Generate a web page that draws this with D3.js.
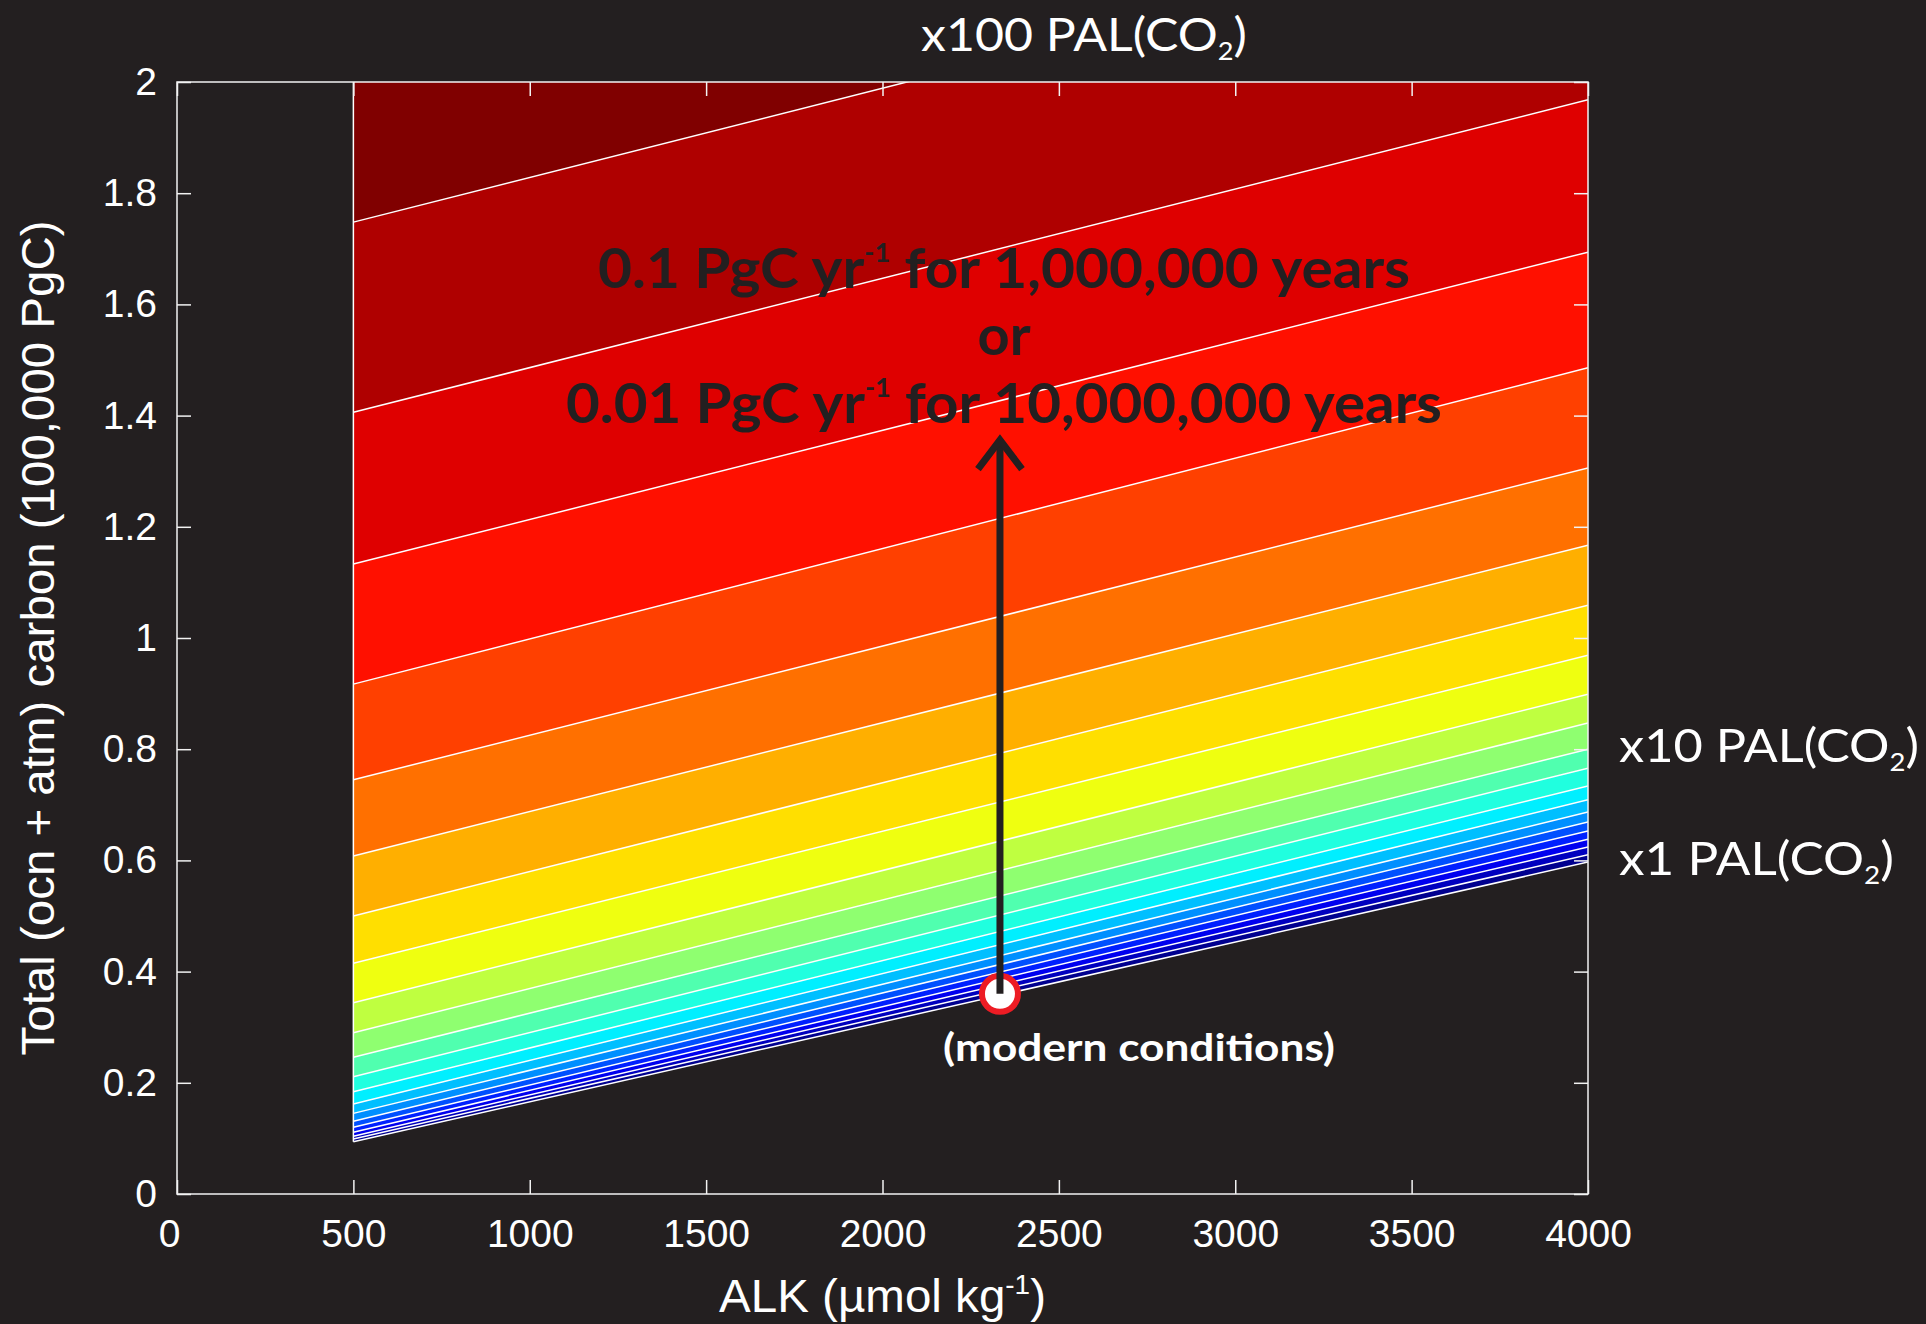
<!DOCTYPE html>
<html>
<head>
<meta charset="utf-8">
<script src="https://cdn.jsdelivr.net/npm/d3@7"></script>
<style>
  html, body { margin: 0; padding: 0; background: #231f20; }
  svg { display: block; }
</style>
</head>
<body>
<div id="chart"></div>
<script>
// pCO2 contour levels, 10 per decade: level k = 10^(k/10) x PAL
const levelIndex = [0, 1, 2, 3, 4, 5, 6, 7, 8, 9, 10, 11, 12, 13, 14, 15, 16, 17, 18, 19, 20];
// ALK where the computed field starts and ends
const alkEnds = [500, 4000];
// total carbon (100,000 PgC) of each contour at ALK = 500 and ALK = 4000
const dicAtAlkLow  = [0.094, 0.099, 0.104, 0.111, 0.120, 0.131, 0.145, 0.162, 0.184, 0.211,
                      0.246, 0.290, 0.344, 0.415, 0.500, 0.608, 0.745, 0.917, 1.133, 1.406, 1.748];
const dicAtAlkHigh = [0.597, 0.610, 0.624, 0.638, 0.653, 0.669, 0.687, 0.709, 0.734, 0.766,
                      0.800, 0.847, 0.899, 0.969, 1.059, 1.167, 1.306, 1.486, 1.694, 1.968, 2.310];

const xTicks = [0, 500, 1000, 1500, 2000, 2500, 3000, 3500, 4000];
const xTickLabels = ["0", "500", "1000", "1500", "2000", "2500", "3000", "3500", "4000"];
const yTicks = [0, 0.2, 0.4, 0.6, 0.8, 1, 1.2, 1.4, 1.6, 1.8, 2];
const yTickLabels = ["0", "0.2", "0.4", "0.6", "0.8", "1", "1.2", "1.4", "1.6", "1.8", "2"];

// modern ocean (ALK, total carbon) and where the arrow points to
const modernAlk = 2333;
const modernDic = 0.36;
const arrowTopDic = 1.356;

const W = 1926, H = 1324;
const margin = {left: 177, right: 338, top: 82, bottom: 130};
const width = W - margin.left - margin.right,
      height = H - margin.top - margin.bottom;

const bg = "#231f20";
const fg = "#f2f2f2";
const gothic = "'Century Gothic', 'URW Gothic', Lato, 'Open Sans', sans-serif";
const arial = "Arial, 'Liberation Sans', Helvetica, sans-serif";

function jet64(i) {
    // MATLAB jet(64), i = 1..64
    let u = k => (k >= 1 && k <= 16) ? k / 16 : (k >= 17 && k <= 31) ? 1 : (k >= 32 && k <= 47) ? (48 - k) / 16 : 0;
    return d3.rgb(255 * u(i - 24), 255 * u(i - 8), 255 * u(i + 8)).formatHex();
}

function bandColor(k) {
    let t = k / (levelIndex.length - 1);
    return jet64(Math.min(64, Math.floor(t * 64) + 1));
}

let svg = d3.select("#chart")
    .append("svg")
    .attr("width", W)
    .attr("height", H)
    .style("background", bg);

let x = d3.scaleLinear().domain([0, 4000]).range([0, width]);
let y = d3.scaleLinear().domain([0, 2]).range([height, 0]);

svg.append("defs").append("clipPath")
    .attr("id", "plot-clip")
    .append("rect")
    .attr("width", width)
    .attr("height", height);

let g = svg.append("g")
    .attr("transform", "translate(" + margin.left + "," + margin.top + ")");

let field = g.append("g").attr("clip-path", "url(#plot-clip)");

// filled bands between consecutive contours, top band runs off the axes
let bands = levelIndex.map(function (k, i) {
    let lower = [[alkEnds[0], dicAtAlkLow[i]], [alkEnds[1], dicAtAlkHigh[i]]];
    let upper = i < levelIndex.length - 1
        ? [[alkEnds[1], dicAtAlkHigh[i + 1]], [alkEnds[0], dicAtAlkLow[i + 1]]]
        : [[alkEnds[1], 3], [alkEnds[0], 3]];
    return {k: k, pts: lower.concat(upper)};
});

let area = d3.line().x(d => x(d[0])).y(d => y(d[1]));

field.selectAll("path.band")
    .data(bands)
    .enter().append("path")
    .attr("class", "band")
    .attr("d", d => area(d.pts) + "Z")
    .attr("fill", d => bandColor(d.k))
    .attr("stroke", d => bandColor(d.k))
    .attr("stroke-width", 0.5);

field.selectAll("line.contour")
    .data(levelIndex)
    .enter().append("line")
    .attr("class", "contour")
    .attr("x1", x(alkEnds[0]))
    .attr("y1", (d, i) => y(dicAtAlkLow[i]))
    .attr("x2", x(alkEnds[1]))
    .attr("y2", (d, i) => y(dicAtAlkHigh[i]))
    .attr("stroke", "#ffffff")
    .attr("stroke-width", 1.5);

// outline of the field at ALK = 500
field.append("line")
    .attr("x1", x(alkEnds[0]))
    .attr("x2", x(alkEnds[0]))
    .attr("y1", y(dicAtAlkLow[0]))
    .attr("y2", y(2))
    .attr("stroke", "#ffffff")
    .attr("stroke-width", 1.5);

// axes with inward ticks on all four sides
let tickLen = 14;

let xAxis = g.append("g")
    .attr("transform", "translate(0," + height + ")")
    .attr("color", fg)
    .call(d3.axisBottom(x).tickValues(xTicks).tickFormat((d, i) => xTickLabels[i])
        .tickSizeInner(-tickLen).tickSizeOuter(0).tickPadding(25));

let yAxis = g.append("g")
    .attr("color", fg)
    .call(d3.axisLeft(y).tickValues(yTicks).tickFormat((d, i) => yTickLabels[i])
        .tickSizeInner(-tickLen).tickSizeOuter(0).tickPadding(20));

let xTop = g.append("g")
    .attr("color", fg)
    .call(d3.axisTop(x).tickValues(xTicks).tickFormat("").tickSizeInner(-tickLen).tickSizeOuter(0));

let yRight = g.append("g")
    .attr("transform", "translate(" + width + ",0)")
    .attr("color", fg)
    .call(d3.axisRight(y).tickValues(yTicks).tickFormat("").tickSizeInner(-tickLen).tickSizeOuter(0));

[xAxis, yAxis, xTop, yRight].forEach(function (a) {
    a.select(".domain").remove();
    a.selectAll(".tick line").attr("stroke-width", 1.5);
    a.selectAll(".tick text")
        .attr("fill", "#ffffff")
        .style("font-family", arial)
        .style("font-size", "39px");
});

// the origin label sits a little left of its tick
xAxis.selectAll(".tick text").filter(d => d === 0).attr("dx", -8);

g.append("rect")
    .attr("width", width)
    .attr("height", height)
    .attr("fill", "none")
    .attr("stroke", fg)
    .attr("stroke-width", 1.5);

// axis titles
let xTitle = svg.append("text")
    .attr("x", margin.left + width / 2)
    .attr("y", 1312)
    .attr("text-anchor", "middle")
    .attr("fill", "#ffffff")
    .style("font-family", arial)
    .style("font-size", "46px")
    .attr("textLength", 327)
    .attr("lengthAdjust", "spacingAndGlyphs");
xTitle.append("tspan").text("ALK (\u00b5mol kg");
xTitle.append("tspan").attr("dy", -18).style("font-size", "27px").text("-1");
xTitle.append("tspan").attr("dy", 18).text(")");

svg.append("text")
    .attr("transform", "translate(54," + (margin.top + height / 2) + ") rotate(-90)")
    .attr("text-anchor", "middle")
    .attr("fill", "#ffffff")
    .style("font-family", arial)
    .style("font-size", "46px")
    .attr("textLength", 835)
    .attr("lengthAdjust", "spacingAndGlyphs")
    .text("Total (ocn + atm) carbon (100,000 PgC)");

// modern conditions marker and arrow
g.append("circle")
    .attr("cx", x(modernAlk))
    .attr("cy", y(modernDic))
    .attr("r", 18)
    .attr("fill", "#ffffff")
    .attr("stroke", "#ed1c24")
    .attr("stroke-width", 6);

g.append("line")
    .attr("x1", x(modernAlk))
    .attr("x2", x(modernAlk))
    .attr("y1", y(modernDic))
    .attr("y2", y(arrowTopDic) + 3)
    .attr("stroke", bg)
    .attr("stroke-width", 7);

g.append("path")
    .attr("d", "M" + (x(modernAlk) - 22) + "," + (y(arrowTopDic) + 29) +
               "L" + x(modernAlk) + "," + y(arrowTopDic) +
               "L" + (x(modernAlk) + 22) + "," + (y(arrowTopDic) + 29))
    .attr("fill", "none")
    .attr("stroke", bg)
    .attr("stroke-width", 7)
    .attr("stroke-linejoin", "miter");

svg.append("text")
    .attr("x", 1139)
    .attr("y", 1061)
    .attr("text-anchor", "middle")
    .attr("fill", "#ffffff")
    .style("font-family", gothic)
    .style("font-size", "38px")
    .style("font-weight", "bold")
    .attr("textLength", 392)
    .attr("lengthAdjust", "spacingAndGlyphs")
    .text("(modern conditions)");

// emission scenario text
function rateText(yPos, rate, rest, len) {
    let t = svg.append("text")
        .attr("x", 1004)
        .attr("y", yPos)
        .attr("text-anchor", "middle")
        .attr("fill", bg)
        .style("font-family", gothic)
        .style("font-size", "56px")
        .style("font-weight", "bold")
        .attr("textLength", len)
        .attr("lengthAdjust", "spacingAndGlyphs");
    t.append("tspan").text(rate + " PgC yr");
    t.append("tspan").attr("dy", -26).style("font-size", "26px").text("-1");
    t.append("tspan").attr("dy", 26).text(" " + rest);
}
rateText(288, "0.1", "for 1,000,000 years", 812);
rateText(423, "0.01", "for 10,000,000 years", 876);

svg.append("text")
    .attr("x", 1004)
    .attr("y", 355)
    .attr("text-anchor", "middle")
    .attr("fill", bg)
    .style("font-family", gothic)
    .style("font-size", "56px")
    .style("font-weight", "bold")
    .text("or");

// PAL labels for the x1, x10 and x100 contours
function palLabel(px, py, mult, len) {
    let t = svg.append("text")
        .attr("x", px)
        .attr("y", py)
        .attr("fill", "#ffffff")
        .style("font-family", gothic)
        .style("font-size", "46px")
        .attr("textLength", len)
        .attr("lengthAdjust", "spacingAndGlyphs");
    t.append("tspan").text(mult + " PAL(CO");
    t.append("tspan").attr("dy", 9).style("font-size", "25px").text("2");
    t.append("tspan").attr("dy", -9).text(")");
}
palLabel(921, 51, "x100", 326);
palLabel(1619, 762, "x10", 300);
palLabel(1619, 875, "x1", 275);
</script>
</body>
</html>
